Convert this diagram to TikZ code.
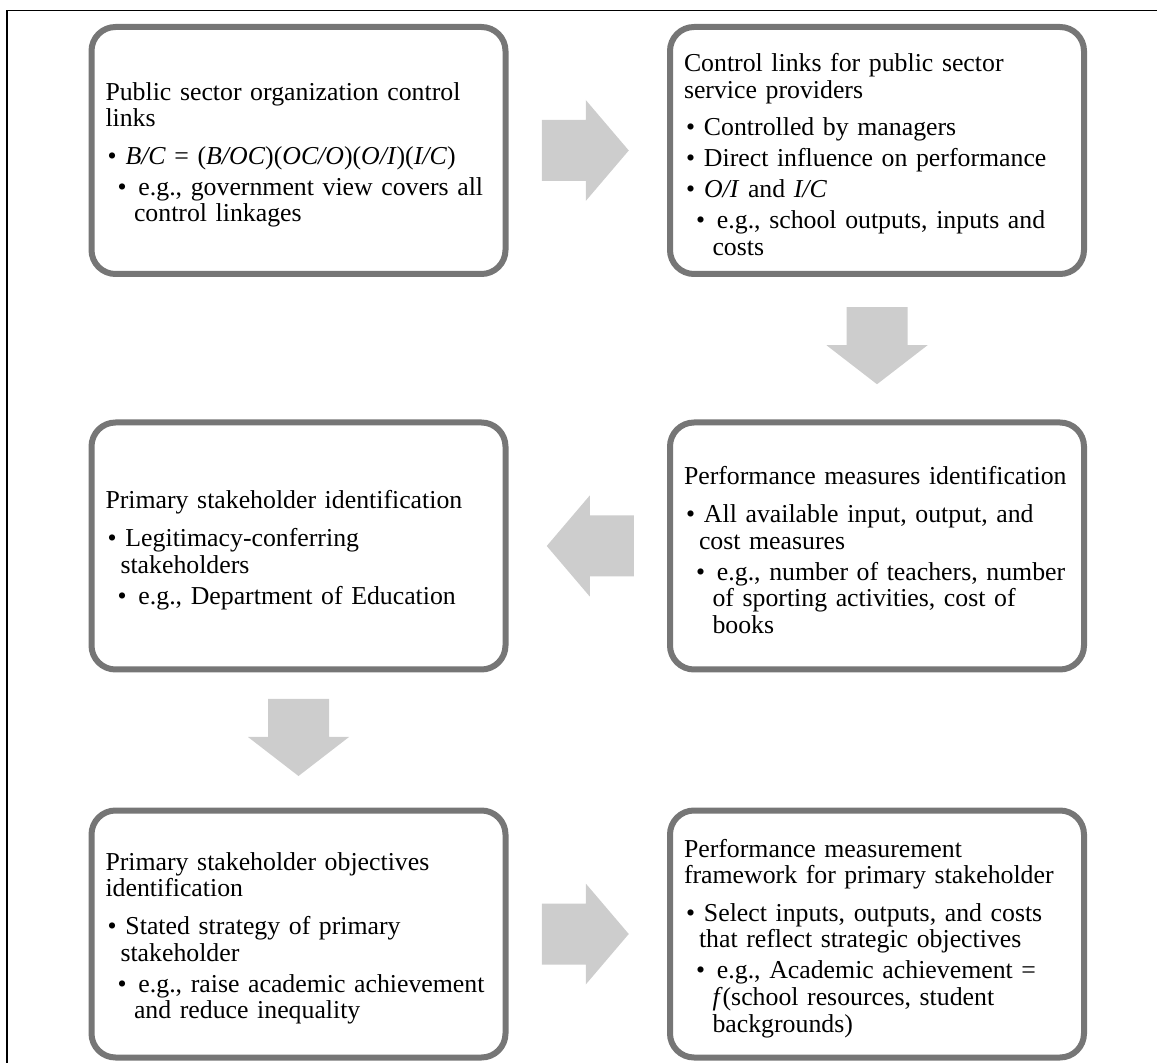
\documentclass[tikz,border=0pt]{standalone}
\usepackage{fontspec}
\setmainfont{Liberation Serif}
\usetikzlibrary{calc}
\definecolor{boxgray}{HTML}{767676}
\definecolor{arrgray}{HTML}{CDCDCD}
\newcommand{\ttl}[1]{\par\noindent #1\par\vspace{3.3pt}}
\newcommand{\bA}[1]{\par\vspace{2.2pt}\hangindent=7.5pt\hangafter=1\noindent\hspace*{1pt}\makebox[9pt][l]{\textbullet}#1\par}
\newcommand{\bB}[1]{\par\vspace{2.2pt}\hangindent=14.25pt\hangafter=1\noindent\hspace*{6pt}\makebox[10.5pt][l]{\textbullet}#1\par}
\tikzset{
  box/.style={draw=boxgray, line width=3pt, rounded corners=12pt, fill=white,
    minimum width=207pt, minimum height=123.5pt, text width=193pt,
    inner xsep=7pt, inner ysep=0pt, align=left,
    font=\fontsize{12.9pt}{13.3pt}\selectfont},
  blockarrow/.style={fill=arrgray, draw=none}
}
\begin{document}
\begin{tikzpicture}[x=0.5pt,y=-0.5pt]
\useasboundingbox (0,0) rectangle (1157,1063);
\draw[line width=0.8pt, black] (1157,10.5) -- (7,10.5) -- (7,1063);

\node[box] (b1) at (298.5,150.5) {%
\ttl{Public sector organization control\newline links}
\bA{\textit{B/C} = (\textit{B/OC})(\textit{OC/O})(\textit{O/I})(\textit{I/C})}
\bB{e.g., government view covers all\newline control linkages}};

\node[box] (b2) at (877,150.5) {%
\ttl{Control links for public sector\newline service providers}
\bA{Controlled by managers}
\bA{Direct influence on performance}
\bA{\textit{O/I} and \textit{I/C}}
\bB{e.g., school outputs, inputs and\newline costs}};

\node[box] (b3) at (877,546) {%
\ttl{Performance measures identification}
\bA{All available input, output, and\newline cost measures}
\bB{e.g., number of teachers, number\newline of sporting activities, cost of\newline books}};

\node[box] (b4) at (298.5,546) {%
\ttl{Primary stakeholder identification}
\bA{Legitimacy-conferring\newline stakeholders}
\bB{e.g., Department of Education}};

\node[box] (b5) at (298.5,934) {%
\ttl{Primary stakeholder objectives\newline identification}
\bA{Stated strategy of primary\newline stakeholder}
\bB{e.g., raise academic achievement\newline and reduce inequality}};

\node[box] (b6) at (877,934) {%
\ttl{Performance measurement\newline framework for primary stakeholder}
\bA{Select inputs, outputs, and costs\newline that reflect strategic objectives}
\bB{e.g., Academic achievement =\newline \textit{f}(school resources, student\newline backgrounds)}};

\coordinate (m12) at ($(b1.east)!0.5!(b2.west)$);
\coordinate (m23) at ($(b2.south)!0.5!(b3.north)$);
\coordinate (m34) at ($(b3.west)!0.5!(b4.east)$);
\coordinate (m45) at ($(b4.south)!0.5!(b5.north)$);
\coordinate (m56) at ($(b5.east)!0.5!(b6.west)$);

\fill[blockarrow, shift={(m12)}] (-46,-30.5) -- (-2,-30.5) -- (-2,-50.5) -- (41,0) -- (-2,50.5) -- (-2,30.5) -- (-46,30.5) -- cycle;
\fill[blockarrow, shift={(m23)}] (-30.5,-41) -- (30.5,-41) -- (30.5,-3) -- (50.5,-3) -- (0,36) -- (-50.5,-3) -- (-30.5,-3) -- cycle;
\fill[blockarrow, shift={(m34)}] (46,-30.5) -- (2,-30.5) -- (2,-50.5) -- (-41,0) -- (2,50.5) -- (2,30.5) -- (46,30.5) -- cycle;
\fill[blockarrow, shift={(m45)}] (-30.5,-41) -- (30.5,-41) -- (30.5,-3) -- (50.5,-3) -- (0,36) -- (-50.5,-3) -- (-30.5,-3) -- cycle;
\fill[blockarrow, shift={(m56)}] (-46,-30.5) -- (-2,-30.5) -- (-2,-50.5) -- (41,0) -- (-2,50.5) -- (-2,30.5) -- (-46,30.5) -- cycle;
\end{tikzpicture}
\end{document}
